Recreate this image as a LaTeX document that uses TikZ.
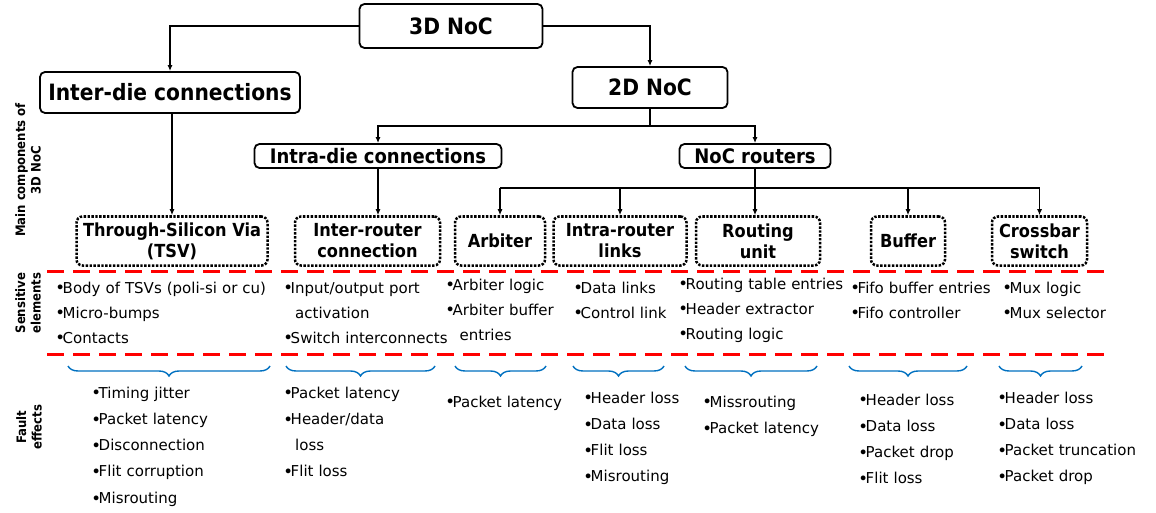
\documentclass[tikz,border=0pt]{standalone}
\usepackage{fontspec}
\usepackage{graphicx}
\setmainfont{DejaVu Sans}
\newfontfamily\hdr{DejaVu Sans Condensed}
\usetikzlibrary{arrows.meta,decorations.pathreplacing}
\definecolor{braceblue}{RGB}{0,112,192}
\newcommand\bu{\mbox{\kern-1.8pt\raisebox{-0.9pt}{\scalebox{1.1}{•}}\kern-2.4pt}}
\newcommand\ind{\hspace*{10pt}}
\tikzset{
 arr/.style={-{Latex[length=6pt,width=5pt]}, line width=1.6pt},
 solidbox/.style={draw, line width=1.8pt, rounded corners=5pt, inner sep=0pt, font=\hdr\bfseries\fontsize{22.5}{24}\selectfont},
 midbox/.style={solidbox, font=\hdr\bfseries\fontsize{20}{22}\selectfont},
 dbox/.style={draw, line width=2.5pt, dash pattern=on 2.4pt off 1.5pt, rounded corners=6pt, inner sep=0pt, minimum height=49pt, align=center, font=\hdr\bfseries\fontsize{18}{21}\selectfont},
 lst/.style={anchor=base west, inner sep=0pt, text width=260pt, align=left, font=\fontsize{15}{25}\selectfont},
 flst/.style={lst, font=\fontsize{15}{26.3}\selectfont},
 side/.style={rotate=90, align=center, font=\hdr\bfseries\fontsize{13}{15.5}\selectfont},
 redline/.style={draw=red, line width=3pt, dash pattern=on 17pt off 9pt},
 br/.style={draw=braceblue, line width=1.4pt, decorate, decoration={brace, amplitude=10pt}},
}
\begin{document}
\begin{tikzpicture}[x=1pt,y=-1pt]
\useasboundingbox (0,0) rectangle (1156,513);
% top boxes
\node[solidbox, minimum width=183pt, minimum height=44pt] (n3d) at (451,26) {3D NoC};
\node[solidbox, minimum width=260pt, minimum height=41pt] (inter) at (170,92.5) {Inter-die connections};
\node[solidbox, minimum width=155pt, minimum height=41pt] (n2d) at (650,87.5) {2D NoC};
\node[midbox, minimum width=247pt, minimum height=24pt] (intra) at (378,156) {Intra-die connections};
\node[midbox, minimum width=151pt, minimum height=24pt] (routers) at (755,156) {NoC routers};
% component boxes
\node[dbox, minimum width=191pt] (tsv) at (172,241) {Through-Silicon Via\\(TSV)};
\node[dbox, minimum width=145pt] (irc) at (367.5,241) {Inter-router\\connection};
\node[dbox, minimum width=90pt] (arb) at (500,241) {Arbiter};
\node[dbox, minimum width=133pt] (irl) at (620,241) {Intra-router\\links};
\node[dbox, minimum width=124pt] (ru) at (758,241) {Routing\\unit};
\node[dbox, minimum width=74pt] (buf) at (908,241) {Buffer};
\node[dbox, minimum width=95pt] (xbar) at (1039.5,241) {Crossbar\\switch};
% connectors
\coordinate (b1) at (0,126);
\coordinate (b2) at (0,188);
\draw[arr] (n3d.west) -| (inter.north);
\draw[arr] (n3d.east) -| (n2d.north);
\draw[arr] (n2d.south) -- (n2d.south |- b1) -| (intra.north);
\draw[arr] (n2d.south |- b1) -| (routers.north);
\draw[arr] (tsv.north |- inter.south) -- (tsv.north);
\draw[arr] (intra.south) -- (intra.south |- irc.north);
\draw[arr] (routers.south) -- (routers.south |- ru.north);
\draw[line width=1.6pt] (arb.north |- b2) -- (xbar.north |- b2);
\draw[arr] (arb.north |- b2) -- (arb.north);
\draw[arr] (irl.north |- b2) -- (irl.north);
\draw[arr] (buf.north |- b2) -- (buf.north);
\draw[arr] (xbar.north |- b2) -- (xbar.north);
% red separators
\draw[redline] (47,271) -- (1110,271);
\draw[redline] (47,354) -- (1110,354);
% side labels
\node[side] (lm) at (28,170) {Main components of\\3D NoC};
\node[side] (ls) at (28,303) {Sensitive\\elements};
\node[side] (lf) at (29,427) {Fault\\effects};
% sensitive elements
\node[lst] (s1) at (57,293) {\bu Body of TSVs (poli-si or cu)\\\bu Micro-bumps\\\bu Contacts};
\node[lst] (s2) at (285,293) {\bu Input/output port\\\ind activation\\\bu Switch interconnects};
\node[lst] (s3) at (447,290) {\bu Arbiter logic\\\bu Arbiter buffer\\\ind\,entries};
\node[lst] (s4) at (575,293) {\bu Data links\\\bu Control link};
\node[lst] (s5) at (680,289) {\bu Routing table entries\\\bu Header extractor\\\bu Routing logic};
\node[lst] (s6) at (852,293) {\bu Fifo buffer entries\\\bu Fifo controller};
\node[lst] (s7) at (1004,293) {\bu Mux logic\\\bu Mux selector};
% braces
\draw[br] (270,366) -- (68,366);
\draw[br] (435,366) -- (286,366);
\draw[br] (546,366) -- (455,366);
\draw[br] (664,366) -- (573,366);
\draw[br] (817,366) -- (685,366);
\draw[br] (967,366) -- (849,366);
\draw[br] (1082,366) -- (999,366);
% fault effects
\node[flst] (f1) at (93,398) {\bu Timing jitter\\\bu Packet latency\\\bu Disconnection\\\bu Flit corruption\\\bu Misrouting};
\node[flst] (f2) at (285,398) {\bu Packet latency\\\bu Header/data\\\ind loss\\\bu Flit loss};
\node[flst] (f3) at (447,407) {\bu Packet latency};
\node[flst] (f4) at (585,403) {\bu Header loss\\\bu Data loss\\\bu Flit loss\\\bu Misrouting};
\node[flst] (f5) at (704,407) {\bu Missrouting\\\bu Packet latency};
\node[flst] (f6) at (860,405) {\bu Header loss\\\bu Data loss\\\bu Packet drop\\\bu Flit loss};
\node[flst] (f7) at (999,403) {\bu Header loss\\\bu Data loss\\\bu Packet truncation\\\bu Packet drop};
\end{tikzpicture}
\end{document}
